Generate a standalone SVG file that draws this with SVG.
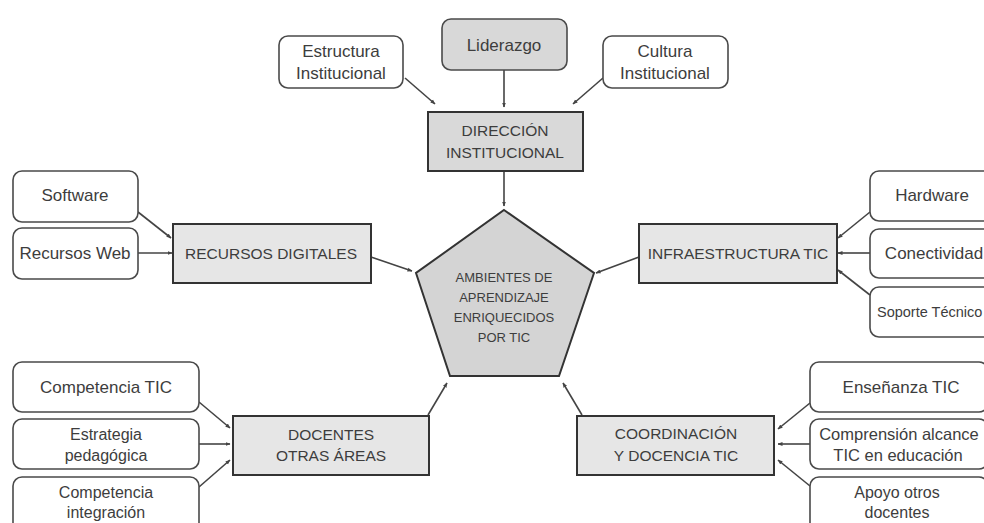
<svg xmlns="http://www.w3.org/2000/svg" width="984" height="523" viewBox="0 0 984 523">
<style>
text{font-family:"Liberation Sans",Arial,sans-serif;fill:#3d3d3d;text-anchor:middle;dominant-baseline:central}
.leaf{fill:#fff;stroke:#4a4a4a;stroke-width:1.6}
.grey{fill:#d8d8d8;stroke:#4a4a4a;stroke-width:1.6}
.main{fill:#e6e6e6;stroke:#333;stroke-width:2}
.dir{fill:#d9d9d9;stroke:#333;stroke-width:2}
.up{font-size:15.5px}
.lf{font-size:17px}
.sm{font-size:16px}
#connectors line{stroke:#444;stroke-width:1.6;marker-end:url(#ah)}
</style>
<defs>
<marker id="ah" viewBox="0 0 10 10" refX="9" refY="5" markerWidth="5" markerHeight="5" orient="auto" markerUnits="userSpaceOnUse">
<path d="M0,1 L10,5 L0,9 z" fill="#444"/>
</marker>
</defs>

<g id="connectors">
<line x1="504" y1="70" x2="504" y2="107"/>
<line x1="405" y1="78" x2="435" y2="104"/>
<line x1="603" y1="78" x2="573" y2="104"/>
<line x1="504" y1="171" x2="504" y2="206"/>
<line x1="138" y1="212" x2="171" y2="238"/>
<line x1="138" y1="253" x2="172" y2="253"/>
<line x1="371" y1="257" x2="412" y2="271"/>
<line x1="870" y1="212" x2="838" y2="238"/>
<line x1="870" y1="253" x2="838" y2="253"/>
<line x1="870" y1="295" x2="838" y2="270"/>
<line x1="639" y1="257" x2="596" y2="273"/>
<line x1="199" y1="402" x2="230" y2="428"/>
<line x1="199" y1="444" x2="230" y2="444"/>
<line x1="199" y1="487" x2="230" y2="460"/>
<line x1="428" y1="415" x2="447" y2="383"/>
<line x1="810" y1="403" x2="778" y2="429"/>
<line x1="810" y1="444" x2="778" y2="444"/>
<line x1="810" y1="486" x2="778" y2="460"/>
<line x1="582" y1="415" x2="563" y2="383"/>
</g>

<g id="liderazgo"><rect class="grey" x="442" y="19" width="125" height="51" rx="9"/><text class="lf" x="504" y="45">Liderazgo</text></g>
<g id="estructura"><rect class="leaf" x="279" y="36" width="124" height="52" rx="9"/><text class="lf" x="341" y="51">Estructura</text><text class="lf" x="341" y="73">Institucional</text></g>
<g id="cultura"><rect class="leaf" x="603" y="36" width="125" height="52" rx="9"/><text class="lf" x="665" y="51">Cultura</text><text class="lf" x="665" y="73">Institucional</text></g>
<g id="direccion"><rect class="dir" x="428" y="112" width="155" height="59"/><text class="up" x="505" y="130">DIRECCIÓN</text><text class="up" x="505" y="152">INSTITUCIONAL</text></g>

<g id="ambientes"><polygon points="504,210 594,273 559,376 450,376 416,273" fill="#d4d4d4" stroke="#333" stroke-width="2"/>
<text font-size="13" x="504" y="277">AMBIENTES DE</text><text font-size="13" x="504" y="297">APRENDIZAJE</text><text font-size="13" x="504" y="317">ENRIQUECIDOS</text><text font-size="13" x="504" y="337">POR TIC</text></g>

<g id="software"><rect class="leaf" x="13" y="171" width="125" height="51" rx="9"/><text class="lf" x="75" y="195">Software</text></g>
<g id="recursosweb"><rect class="leaf" x="13" y="228" width="125" height="51" rx="9"/><text class="lf" x="75" y="253">Recursos Web</text></g>
<g id="recursos"><rect class="main" x="173" y="224" width="198" height="59"/><text class="up" x="271" y="253">RECURSOS DIGITALES</text></g>

<g id="hardware"><rect class="leaf" x="870" y="171" width="125" height="50" rx="9"/><text class="lf" x="932" y="195">Hardware</text></g>
<g id="conectividad"><rect class="leaf" x="870" y="229" width="125" height="49" rx="9"/><text class="lf" x="934" y="253">Conectividad</text></g>
<g id="soporte"><rect class="leaf" x="870" y="287" width="125" height="50" rx="9"/><text font-size="14.5" x="877" y="312" style="text-anchor:start">Soporte Técnico</text></g>
<g id="infra"><rect class="main" x="639" y="224" width="198" height="59"/><text class="up" x="738" y="253">INFRAESTRUCTURA TIC</text></g>

<g id="competencia"><rect class="leaf" x="13" y="362" width="186" height="50" rx="9"/><text class="lf" x="106" y="387">Competencia TIC</text></g>
<g id="estrategia"><rect class="leaf" x="13" y="419" width="186" height="50" rx="9"/><text class="sm" x="106" y="434">Estrategia</text><text class="sm" x="106" y="455">pedagógica</text></g>
<g id="integracion"><rect class="leaf" x="13" y="477" width="186" height="60" rx="9"/><text class="sm" x="106" y="492">Competencia</text><text class="sm" x="106" y="512">integración</text></g>
<g id="docentes"><rect class="main" x="233" y="416" width="196" height="59"/><text class="up" x="331" y="434">DOCENTES</text><text class="up" x="331" y="455">OTRAS ÁREAS</text></g>

<g id="ensenanza"><rect class="leaf" x="810" y="362" width="178" height="50" rx="9"/><text class="lf" x="901" y="387">Enseñanza TIC</text></g>
<g id="comprension"><rect class="leaf" x="810" y="419" width="178" height="50" rx="9"/><text font-size="16.5" x="899" y="434">Comprensión alcance</text><text font-size="16.5" x="898" y="455">TIC en educación</text></g>
<g id="apoyo"><rect class="leaf" x="810" y="477" width="178" height="60" rx="9"/><text class="sm" x="897" y="492">Apoyo otros</text><text class="sm" x="897" y="512">docentes</text></g>
<g id="coordinacion"><rect class="main" x="577" y="416" width="197" height="59"/><text class="up" x="676" y="433">COORDINACIÓN</text><text class="up" x="676" y="455">Y DOCENCIA TIC</text></g>
</svg>
